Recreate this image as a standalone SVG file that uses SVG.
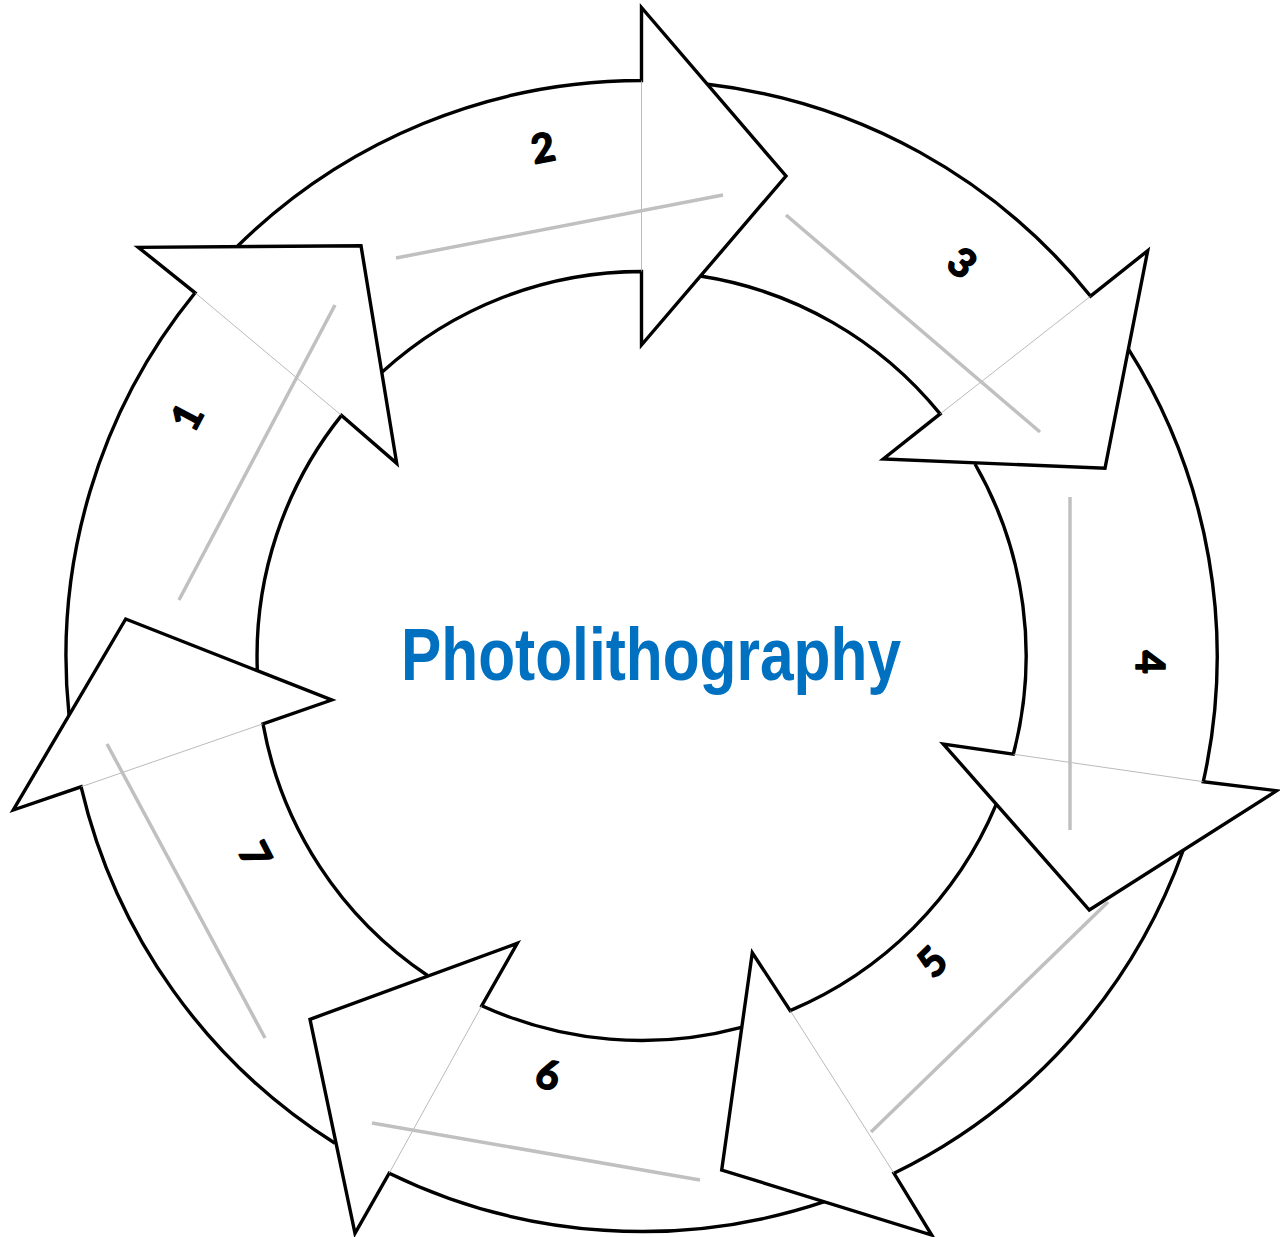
<svg xmlns="http://www.w3.org/2000/svg" width="1280" height="1237" viewBox="0 0 1280 1237">
<style>
.arrow{fill:none;stroke:#000;stroke-width:3.4;stroke-linejoin:miter;stroke-miterlimit:10}
.seam{stroke:#a8a8a8;stroke-width:0.8;fill:none}
.guide{stroke:#c0c0c0;stroke-width:3.5;fill:none}
.num{font-family:Lato,"DejaVu Sans",sans-serif;font-weight:bold;font-size:40px;fill:#000;stroke:#000;stroke-width:1.6;stroke-linejoin:round;text-anchor:middle}
.title{font-family:"Liberation Sans",Arial,sans-serif;font-weight:bold;font-size:74px;fill:#0070C0}
</style>
<rect width="1280" height="1237" fill="#fff"/>
<g id="step1">
<path class="arrow" d="M69,714.9 A575.5,575.5 0 0 1 195.1,292.8 L138.3,247.3 L361,245.7 L396.7,463.3 L341.5,415.4 A384.5,384.5 0 0 0 257.3,670"/>
<line class="seam" x1="195.1" y1="292.8" x2="341.5" y2="415.4"/>
<text class="num" transform="translate(187,417) rotate(-62)" x="0" y="14">1</text>
</g>
<g id="step2">
<path class="arrow" d="M237.7,246 A575.5,575.5 0 0 1 641.5,80.5 L641.5,7.5 L786,176 L641.5,345 L641.5,271.5 A384.5,384.5 0 0 0 382.2,372.1"/>
<line class="seam" x1="641.5" y1="80.5" x2="641.5" y2="271.5"/>
<text class="num" transform="translate(543,148) rotate(-11)" x="0" y="14">2</text>
</g>
<g id="step3">
<path class="arrow" d="M707.4,84.3 A575.5,575.5 0 0 1 1090.6,296.2 L1147.7,250.7 L1105,468.3 L883.3,459 L940.1,413.9 A384.5,384.5 0 0 0 700.1,276"/>
<line class="seam" x1="1090.6" y1="296.2" x2="940.1" y2="413.9"/>
<text class="num" transform="translate(962,263) rotate(39)" x="0" y="14">3</text>
</g>
<g id="step4">
<path class="arrow" d="M1128.3,348.9 A575.5,575.5 0 0 1 1203.3,781.7 L1276.7,790.7 L1089.3,910 L943.3,744 L1013.3,754.2 A384.5,384.5 0 0 0 975,464"/>
<line class="seam" x1="1203.3" y1="781.7" x2="1013.3" y2="754.2"/>
<text class="num" transform="translate(1150,662) rotate(90)" x="0" y="14">4</text>
</g>
<g id="step5">
<path class="arrow" d="M1183.2,850.3 A575.5,575.5 0 0 1 894,1173.3 L931.7,1235 L721.7,1170 L752.3,952.7 L790.2,1010.6 A384.5,384.5 0 0 0 996.1,804.7"/>
<line class="seam" x1="894" y1="1173.3" x2="790.2" y2="1010.6"/>
<text class="num" transform="translate(932,962) rotate(-44)" x="0" y="14">5</text>
</g>
<g id="step6">
<path class="arrow" d="M824.5,1201.7 A575.5,575.5 0 0 1 389.2,1173.2 L355,1233.3 L310,1019.3 L517.3,943.3 L481.8,1005.7 A384.5,384.5 0 0 0 741.4,1027.3"/>
<line class="seam" x1="389.2" y1="1173.2" x2="481.8" y2="1005.7"/>
<text class="num" transform="translate(548,1075) rotate(13)" x="0" y="14">6</text>
</g>
<g id="step7">
<path class="arrow" d="M335,1143.3 A575.5,575.5 0 0 1 81.1,786.8 L13.3,810 L125.7,619 L331.7,700 L263,723.8 A384.5,384.5 0 0 0 427.5,975.5"/>
<line class="seam" x1="81.1" y1="786.8" x2="263" y2="723.8"/>
<text class="num" transform="translate(255,855) rotate(63)" x="0" y="14">7</text>
</g>
<g id="connectors">
<line class="guide" x1="179" y1="600" x2="335" y2="305"/>
<line class="guide" x1="396" y1="258" x2="723" y2="195"/>
<line class="guide" x1="786" y1="215" x2="1040" y2="432"/>
<line class="guide" x1="1070" y1="497" x2="1070" y2="830"/>
<line class="guide" x1="1108" y1="902" x2="871" y2="1132"/>
<line class="guide" x1="700" y1="1180" x2="372" y2="1123"/>
<line class="guide" x1="265" y1="1038" x2="107" y2="744"/>
</g>
<g id="title">
<text class="title" x="401" y="680" textLength="500" lengthAdjust="spacingAndGlyphs">Photolithography</text>
</g>
</svg>
